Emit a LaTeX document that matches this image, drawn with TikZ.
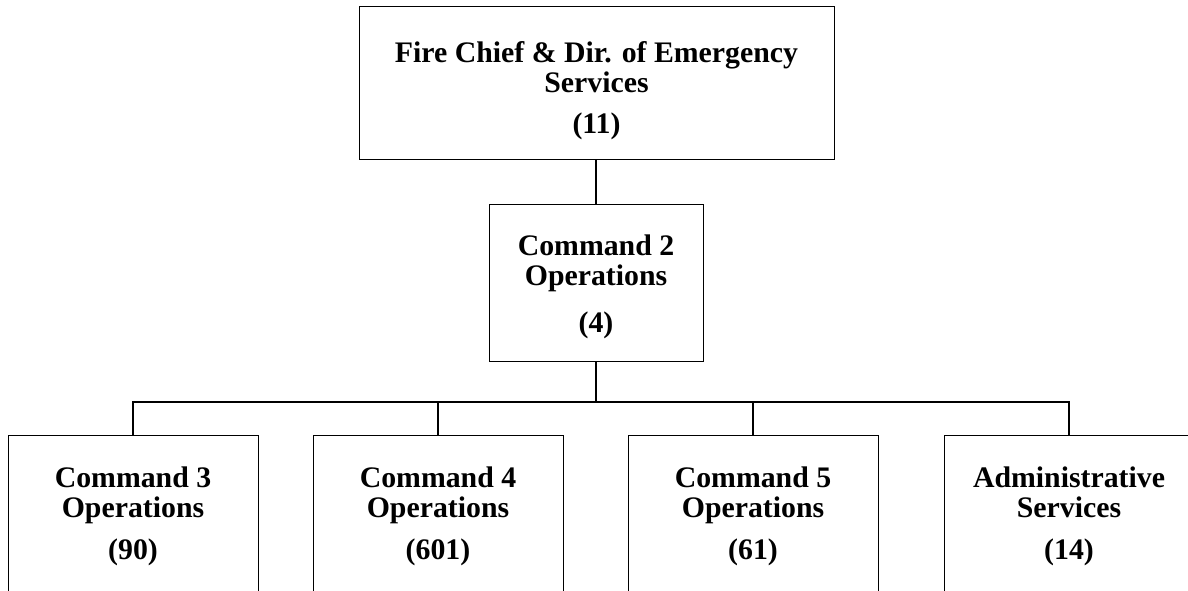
\documentclass[tikz,border=0pt]{standalone}
\usepackage{fontspec}
\setmainfont{Liberation Serif}
\begin{document}
\begin{tikzpicture}[x=1pt,y=-1pt,
  box/.style={draw, line width=1pt, inner sep=0pt},
  lbl/.style={font=\fontsize{29.8}{30}\selectfont\bfseries, align=center, anchor=base, inner sep=0pt},
  conn/.style={line width=1.3pt}]
\useasboundingbox (0,0) rectangle (1188,590);
\clip (0,0) rectangle (1188,590);
% boxes
\node[box, minimum width=475pt, minimum height=153pt] (chief) at (596.5,82.5) {};
\node[box, minimum width=214pt, minimum height=157pt] (cmd2) at (596,282.5) {};
\node[box, minimum width=250pt, minimum height=205pt] (cmd3) at (133,537.5) {};
\node[box, minimum width=250pt, minimum height=205pt] (cmd4) at (438,537.5) {};
\node[box, minimum width=250pt, minimum height=205pt] (cmd5) at (753,537.5) {};
\node[box, minimum width=250pt, minimum height=205pt] (adm) at (1069,537.5) {};
% texts (base anchor = baseline of last line)
\node[lbl] (chiefT) at (596.5,92) {Fire Chief \& Dir. of Emergency\\Services};
\node[lbl] (chiefN) at (596.5,133) {(11)};
\node[lbl] (cmd2T) at (596,285) {Command 2\\Operations};
\node[lbl] (cmd2N) at (596,332) {(4)};
\node[lbl] (cmd3T) at (133,517) {Command 3\\Operations};
\node[lbl] (cmd3N) at (133,559) {(90)};
\node[lbl] (cmd4T) at (438,517) {Command 4\\Operations};
\node[lbl] (cmd4N) at (438,559) {(601)};
\node[lbl] (cmd5T) at (753,517) {Command 5\\Operations};
\node[lbl] (cmd5N) at (753,559) {(61)};
\node[lbl] (admT) at (1069,517) {Administrative\\Services};
\node[lbl] (admN) at (1069,559) {(14)};
% connectors
\coordinate (bus) at (596,402);
\draw[conn] (cmd2.north |- chief.south) -- (cmd2.north);
\draw[conn] (cmd2.south) -- (bus);
\draw[conn] (cmd3.north) -- (cmd3.north |- bus) -- (adm.north |- bus) -- (adm.north);
\draw[conn] (cmd4.north) -- (cmd4.north |- bus);
\draw[conn] (cmd5.north) -- (cmd5.north |- bus);
\end{tikzpicture}
\end{document}
